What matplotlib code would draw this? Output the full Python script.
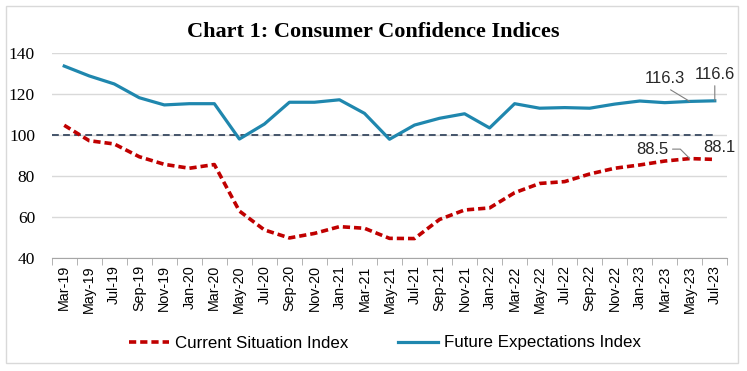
import matplotlib
matplotlib.use("Agg")
import matplotlib.pyplot as plt
from matplotlib.patches import Rectangle

months = ["Mar-19", "May-19", "Jul-19", "Sep-19", "Nov-19", "Jan-20", "Mar-20", "May-20",
          "Jul-20", "Sep-20", "Nov-20", "Jan-21", "Mar-21", "May-21", "Jul-21", "Sep-21",
          "Nov-21", "Jan-22", "Mar-22", "May-22", "Jul-22", "Sep-22", "Nov-22", "Jan-23",
          "Mar-23", "May-23", "Jul-23"]
csi = [104.7, 97.2, 95.6, 89.4, 85.7, 83.8, 85.6, 63.0, 53.8, 49.9, 52.1, 55.4, 54.6, 49.7,
       49.6, 58.9, 63.5, 64.5, 71.9, 76.4, 77.3, 81.0, 83.8, 85.4, 87.3, 88.5, 88.1]
fei = [133.5, 128.7, 124.8, 118.1, 114.6, 115.2, 115.2, 98.0, 105.3, 115.9, 115.9, 117.1,
       110.5, 97.9, 104.8, 108.1, 110.3, 103.4, 115.2, 113.0, 113.3, 113.0, 115.0, 116.5,
       115.7, 116.3, 116.6]
yticks = [40, 60, 80, 100, 120, 140]
baseline = 100

W, H = 747, 371
fig = plt.figure(figsize=(W / 100, H / 100), dpi=100)
fig.patches.append(Rectangle((6 / W, 1 - 363 / H), 732 / W, 357 / H, transform=fig.transFigure,
                             fill=False, edgecolor="#D9D9D9", linewidth=1.0))

ax = fig.add_axes([51.7 / W, 1 - 258.3 / H, 675.6 / W, 205.6 / H])
x = list(range(len(months)))
red = "#C00000"
blue = "#1F87AE"

ax.hlines(baseline, -0.5, len(months) - 1, color="#44546A", linestyle=(0, (3.5, 2.2)),
          linewidth=1.4, zorder=2)
l1, = ax.plot(x, csi, color=red, linestyle=(0, (2.0, 1.1)), linewidth=2.6, zorder=3,
              label="Current Situation Index")
l2, = ax.plot(x, fei, color=blue, linewidth=2.3, zorder=3, label="Future Expectations Index")

ax.set_xlim(-0.5, len(months) - 0.5)
ax.set_ylim(40, 140)
ax.set_yticks(yticks)
ax.set_yticklabels([str(v) for v in yticks], fontfamily="Liberation Serif", fontsize=12.5)
ax.set_xticks(x)
ax.set_xticklabels(months, rotation=90, fontfamily="Liberation Sans", fontsize=10.3)
ax.set_xticks([i - 0.5 for i in range(len(months) + 1)], minor=True)
ax.tick_params(axis="x", which="major", length=0, pad=5)
ax.tick_params(axis="x", which="minor", length=5, color="#A6A6A6")
ax.tick_params(axis="y", length=0, pad=12)
ax.grid(axis="y", color="#D9D9D9", linewidth=1.0, zorder=0)
ax.set_axisbelow(True)
for s in ["left", "right", "top"]:
    ax.spines[s].set_visible(False)
ax.spines["bottom"].set_color("#A6A6A6")

# data labels with leader lines
afont = dict(fontfamily="Liberation Sans", fontsize=12, color="#262626")
lead = dict(arrowstyle="-", color="#7F7F7F", lw=0.8, shrinkA=1, shrinkB=0)
ax.annotate(f"{fei[25]}", xy=(25, fei[25]), xytext=(24.0, 127.3), ha="center", va="center",
            arrowprops=dict(relpos=(0.5, 0.0), **lead), **afont)
ax.annotate(f"{fei[26]}", xy=(26, fei[26]), xytext=(26.0, 129.6), ha="center", va="center",
            arrowprops=dict(relpos=(0.5, 0.0), **lead), **afont)
ax.annotate(f"{csi[25]}", xy=(25, csi[25]), xytext=(23.5, 93.1), ha="center", va="center",
            arrowprops=dict(relpos=(1.0, 0.5), connectionstyle="angle,angleA=0,angleB=135,rad=0",
                            **lead), **afont)
ax.annotate(f"{csi[26]}", xy=(26, csi[26]), xytext=(26.2, 94.1), ha="center", va="center",
            **afont)

fig.text(373 / W, 1 - 32 / H, "Chart 1: Consumer Confidence Indices", ha="center", va="center",
         fontfamily="Liberation Serif", fontweight="bold", fontsize=16)

fig.legend(handles=[l1, l2], loc="center", bbox_to_anchor=(385 / W, 1 - 343 / H), ncol=2,
           frameon=False, prop=dict(family="Liberation Sans", size=12.2),
           handlelength=2.4, columnspacing=2.9, handletextpad=0.35)

fig.savefig("out.png", dpi=100)
